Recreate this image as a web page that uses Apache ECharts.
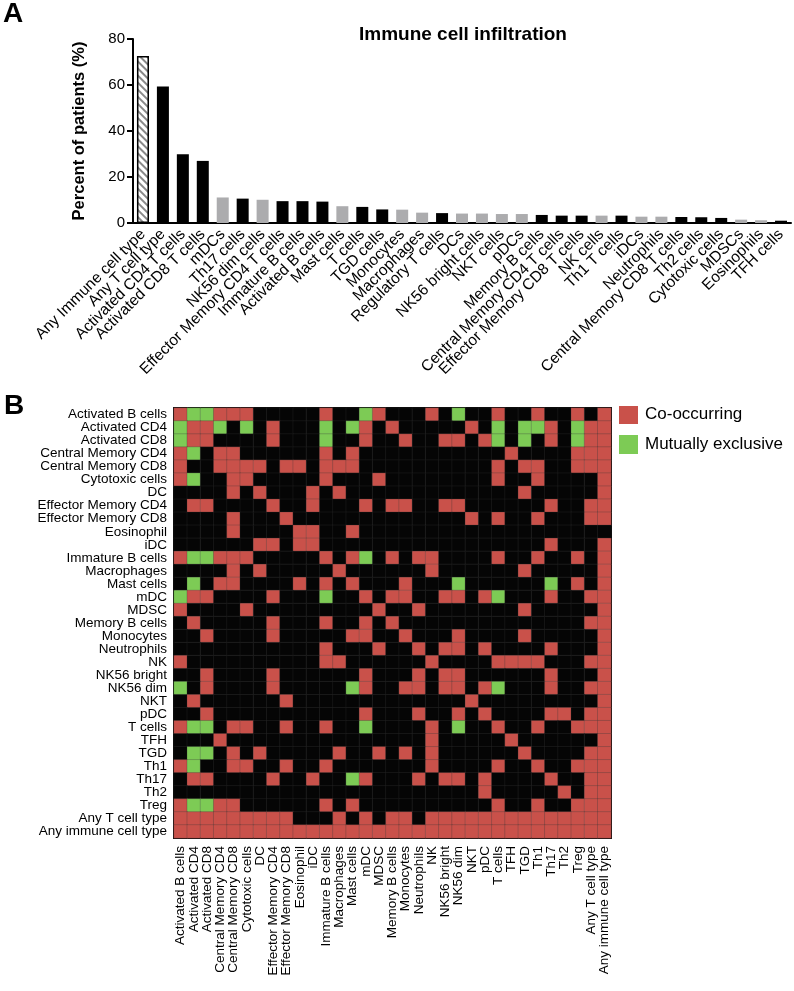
<!DOCTYPE html>
<html><head><meta charset="utf-8">
<script src="https://cdn.jsdelivr.net/npm/echarts@6/dist/echarts.min.js"></script>
<style>html,body{margin:0;padding:0;background:#fff}#c{width:794px;height:991px}</style>
</head><body><div id="c"></div>
<script>
// ---- Panel A data ----
const barCategories = ["Any Immune cell type","Any T cell type","Activated CD4 T cells","Activated CD8 T cells","mDCs","Th17 cells","NK56 dim cells","Effector Memory CD4 T cells","Immature B cells","Activated B cells","Mast cells","T cells","TGD cells","Monocytes","Macrophages","Regulatory T cells","DCs","NK56 bright cells","NKT cells","pDCs","Memory B cells","Central Memory CD4 T cells","Effector Memory CD8 T cells","NK cells","Th1 T cells","iDCs","Neutrophils","Central Memory CD8 T cells","Th2 cells","Cytotoxic cells","MDSCs","Eosinophils","TFH cells"];
const barValues = [72.6,59.3,29.9,27.0,11.1,10.6,10.1,9.5,9.5,9.3,7.3,7.0,5.9,5.8,4.5,4.3,4.1,4.1,3.9,3.9,3.5,3.2,3.2,3.2,3.2,2.75,2.75,2.6,2.5,2.2,1.45,1.2,1.0];
const barKinds = ["any","adaptive","adaptive","adaptive","innate","adaptive","innate","adaptive","adaptive","adaptive","innate","adaptive","adaptive","innate","innate","adaptive","innate","innate","innate","innate","adaptive","adaptive","adaptive","innate","adaptive","innate","innate","adaptive","adaptive","adaptive","innate","innate","adaptive"];
const yTicks = [0,20,40,60,80];

// ---- Panel B data ----
const cellTypes = ["Activated B cells","Activated CD4","Activated CD8","Central Memory CD4","Central Memory CD8","Cytotoxic cells","DC","Effector Memory CD4","Effector Memory CD8","Eosinophil","iDC","Immature B cells","Macrophages","Mast cells","mDC","MDSC","Memory B cells","Monocytes","Neutrophils","NK","NK56 bright","NK56 dim","NKT","pDC","T cells","TFH","TGD","Th1","Th17","Th2","Treg","Any T cell type","Any immune cell type"];
// R = co-occurring, G = mutually exclusive, . = none
const matrixRows = [
"RGGRRR.....R..GR...R.G..R..R..R.R",
"GRRG.G.R...G.GR.R.....R.G.GGR.GRR",
"GRR....R...G..R..R..RR.RG.G.R.GRR",
"RG.RR......R.R...........R....RRR",
"R..RRRR.RR.RRR..........R.RR..RRR",
"RG..RR.....R...R........R..R....R",
"....R.R...R.R.............R.....R",
".RR....R..R...R.RR..RR......R..RR",
"....R...R.............R.R..R...RR",
"....R....RR..R...................",
"......RR.RR.................R...R",
"RGGRRR.....R.RG.R.RR....R..R..R.R",
"....R.R.....R......R......R.....R",
".G.RR....R.R.R...R...G......G.R.R",
"GRR....R...G..R.RR..RR.RG...R..RR",
"R....R.........R..R.......R.....R",
".R.....R...R..R.R..............RR",
"..R....R.....RR..R...R....R.....R",
"...........R...R..R.RR.R....R...R",
"R..........RR......R....RRRR...RR",
"..R....R......R...R.RR......R...R",
"G.R....R.....GR..RR.RR.RG...R..RR",
".R......R.............R.........R",
"..R...........R...R..R.R....RR.RR",
"RGG.RR..R..R..G....R.G..R..R..RRR",
"...R...............R.....R......R",
".GG.R.R.....R..R.R.R......R....RR",
"RG..RR..R..R.......R....R..R..RRR",
".RR....R..R..GR...R.RR.R....R..RR",
".......................R.....R.RR",
"RGGRR......R.R..........R..R..RRR",
"RRRRRRRRR...R.R.RR.RRRRRRRRRRRRRR",
"RRRRRRRRRRRRRRRRRRRRRRRRRRRRRRRRR"
];

const RED = '#c9514a', GREEN = '#7dcb55', BLACK = '#050505';
const FONT = 'Liberation Sans, Arial, Helvetica, sans-serif';

const barData = barValues.map((v, i) => {
  const k = barKinds[i];
  if (k === 'any') return {value: v, itemStyle: {color: '#fff', borderColor: '#000', borderWidth: 1.5,
    decal: {symbol: 'rect', symbolSize: 1, color: '#8a8a8a', backgroundColor: '#fff', dashArrayX: [1, 0], dashArrayY: [2, 3], rotation: Math.PI / 4}}};
  return {value: v, itemStyle: {color: k === 'adaptive' ? '#000' : '#acacae'}};
});

const heatData = [];
const codeVal = {'.': 0, 'R': 1, 'G': 2};
matrixRows.forEach((row, r) => {
  for (let c = 0; c < row.length; c++) heatData.push([c, r, codeVal[row[c]]]);
});

const chart = echarts.init(document.getElementById('c'), null, {renderer: 'canvas'});
chart.setOption({
  animation: false,
  backgroundColor: '#fff',
  textStyle: {fontFamily: FONT},
  title: {text: 'Immune cell infiltration', left: 354, top: 20,
    textStyle: {fontSize: 19, fontWeight: 'bold', color: '#000', fontFamily: FONT}},
  grid: [
    {left: 133, top: 39, width: 658, height: 184},
    {left: 174, top: 408, width: 437, height: 430}
  ],
  xAxis: [
    {type: 'category', gridIndex: 0, data: barCategories,
      axisLine: {lineStyle: {color: '#000', width: 2}},
      axisTick: {alignWithLabel: true, length: 6, lineStyle: {color: '#000', width: 2}},
      axisLabel: {rotate: 45, interval: 0, fontSize: 15.5, color: '#000', margin: 9, fontFamily: FONT}},
    {type: 'category', gridIndex: 1, data: cellTypes, position: 'bottom',
      axisLine: {lineStyle: {color: '#000', width: 2}}, axisTick: {show: false},
      axisLabel: {rotate: 90, interval: 0, fontSize: 13.5, color: '#000', margin: 8, fontFamily: FONT},
      splitLine: {show: false}},
    {type: 'category', gridIndex: 1, data: cellTypes, position: 'top',
      axisLine: {lineStyle: {color: '#000', width: 2}}, axisTick: {show: false}, axisLabel: {show: false}}
  ],
  yAxis: [
    {type: 'value', gridIndex: 0, min: 0, max: 80, interval: 20,
      name: 'Percent of patients (%)', nameLocation: 'middle', nameGap: 45,
      nameTextStyle: {fontSize: 16.5, fontWeight: 'bold', color: '#000', fontFamily: FONT},
      axisLine: {show: true, lineStyle: {color: '#000', width: 2}},
      axisTick: {show: true, length: 6, lineStyle: {color: '#000', width: 2}},
      axisLabel: {fontSize: 15, color: '#000', margin: 8, fontFamily: FONT,
        formatter: v => yTicks.includes(v) ? String(v) : ''},
      splitLine: {show: false}},
    {type: 'category', gridIndex: 1, data: cellTypes, inverse: true,
      axisLine: {show: true, lineStyle: {color: '#000', width: 2}}, axisTick: {show: false},
      axisLabel: {interval: 0, fontSize: 13.5, color: '#000', margin: 7, fontFamily: FONT}},
    {type: 'category', gridIndex: 1, data: cellTypes, inverse: true, position: 'right',
      axisLine: {show: true, lineStyle: {color: '#000', width: 2}}, axisTick: {show: false}, axisLabel: {show: false}}
  ],
  visualMap: {type: 'piecewise', show: false, seriesIndex: 1, dimension: 2,
    pieces: [{value: 0, color: BLACK}, {value: 1, color: RED}, {value: 2, color: GREEN}]},
  series: [
    {type: 'bar', xAxisIndex: 0, yAxisIndex: 0, data: barData, barWidth: 12},
    {type: 'heatmap', xAxisIndex: 1, yAxisIndex: 1, data: heatData,
      itemStyle: {borderColor: 'rgba(60,60,60,0.55)', borderWidth: 0.5}, z: 1}
  ],
  graphic: [
    {type: 'text', left: 3, top: 0, style: {text: 'A', font: 'bold 28px ' + FONT, fill: '#000'}},
    {type: 'text', left: 4, top: 392, style: {text: 'B', font: 'bold 28px ' + FONT, fill: '#000'}},
    {type: 'rect', left: 619, top: 406, shape: {width: 19, height: 18}, style: {fill: RED}},
    {type: 'text', left: 645, top: 406, style: {text: 'Co-occurring', font: '17px ' + FONT, fill: '#000'}},
    {type: 'rect', left: 619, top: 435, shape: {width: 19, height: 19}, style: {fill: GREEN}},
    {type: 'text', left: 645, top: 436, style: {text: 'Mutually exclusive', font: '17px ' + FONT, fill: '#000'}}
  ]
});
</script></body></html>
